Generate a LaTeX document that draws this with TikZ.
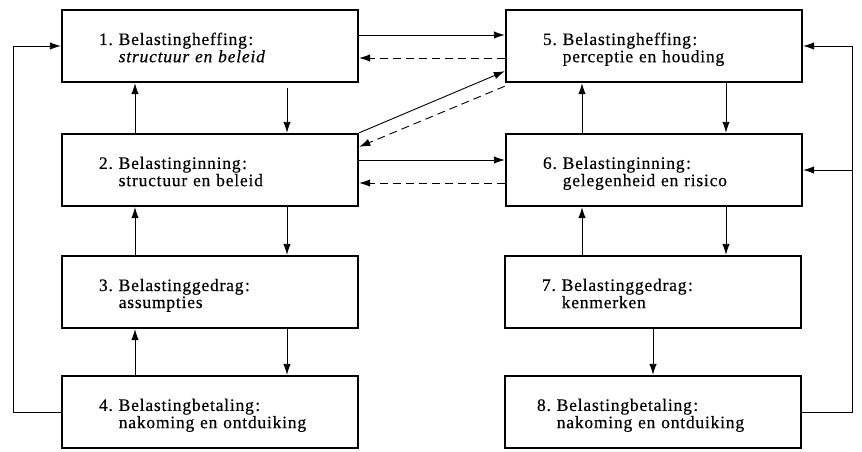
\documentclass[tikz,border=0pt]{standalone}
\usepackage{fontspec}
\setmainfont{Liberation Serif}[LetterSpace=4.5, FakeBold=0.4]
\usetikzlibrary{arrows.meta}
\tikzset{
  box/.style={draw, line width=2.4pt, minimum width=296pt, minimum height=72pt,
    text width=222pt, inner xsep=37pt, align=left,
    font=\fontsize{17.5}{17}\selectfont},
  conn/.style={line width=0.9pt, -{Latex[length=11pt,width=7.5pt]}},
  dconn/.style={conn, dash pattern=on 8pt off 5pt}
}
\newcommand{\bt}[3]{\raisebox{-4pt}[\height][\depth]{\begin{tabular}{@{}l@{\ }l@{}}#1 & #2\kern1.5pt:\\ & #3\end{tabular}}}
\begin{document}
\begin{tikzpicture}[x=1pt,y=-1pt]
\useasboundingbox (0,0) rectangle (862,452);
\node[box] (b1) at (210,46) {\bt{1.}{Belastingheffing}{\textit{structuur en beleid}}};
\node[box] (b2) at (210,170) {\bt{2.}{Belastinginning}{structuur en beleid}};
\node[box] (b3) at (210,292) {\bt{3.}{Belastinggedrag}{assumpties}};
\node[box] (b4) at (210,412) {\bt{4.}{Belastingbetaling}{nakoming en ontduiking}};
\node[box] (b5) at (654,46) {\bt{5.}{Belastingheffing}{perceptie en houding}};
\node[box] (b6) at (654,170) {\bt{6.}{Belastinginning}{gelegenheid en risico}};
\node[box] (b7) at (653,292) {\bt{7.}{Belastinggedrag}{kenmerken}};
\node[box, inner xsep=32pt, text width=232pt] (b8) at (653,412) {\bt{8.}{Belastingbetaling}{nakoming en ontduiking}};
% column x positions
\coordinate (lu) at (135,0);
\coordinate (ld) at (287,0);
\coordinate (ru) at (582,0);
\coordinate (rd) at (726,0);
\coordinate (rm) at (653,0);
\coordinate (lx) at (13,0);
\coordinate (rx) at (852,0);
% left column vertical
\draw[conn] (b2.north -| lu) -- (b1.south -| lu);
\draw[conn] ([yshift=-5pt]b1.south -| ld) -- (b2.north -| ld);
\draw[conn] (b3.north -| lu) -- (b2.south -| lu);
\draw[conn] (b2.south -| ld) -- (b3.north -| ld);
\draw[conn] (b4.north -| lu) -- (b3.south -| lu);
\draw[conn] (b3.south -| ld) -- (b4.north -| ld);
% right column vertical
\draw[conn] (b6.north -| ru) -- (b5.south -| ru);
\draw[conn] (b5.south -| rd) -- (b6.north -| rd);
\draw[conn] (b7.north -| ru) -- (b6.south -| ru);
\draw[conn] (b6.south -| rd) -- (b7.north -| rd);
\draw[conn] (b7.south -| rm) -- (b8.north -| rm);
% loops
\draw[conn] (b4.west) -- (b4.west -| lx) -- (b1.west -| lx) -- (b1.west);
\draw[conn] (b8.east) -- (b8.east -| rx) -- (b5.east -| rx) -- (b5.east);
\draw[conn] (b6.east -| rx) -- (b6.east);
% between columns
\draw[conn] ([yshift=11pt]b1.east) -- ([yshift=11pt]b5.west);
\draw[dconn] ([yshift=-12pt]b5.west) -- ([yshift=-12pt]b1.east);
\draw[conn] (b2.north east) -- ([yshift=12pt]b5.south west);
\draw[dconn] ([yshift=-3pt]b5.south west) -- ([yshift=-14pt]b2.north east);
\draw[conn] ([yshift=10pt]b2.east) -- ([yshift=10pt]b6.west);
\draw[dconn] ([yshift=-13pt]b6.west) -- ([yshift=-13pt]b2.east);
\end{tikzpicture}
\end{document}
